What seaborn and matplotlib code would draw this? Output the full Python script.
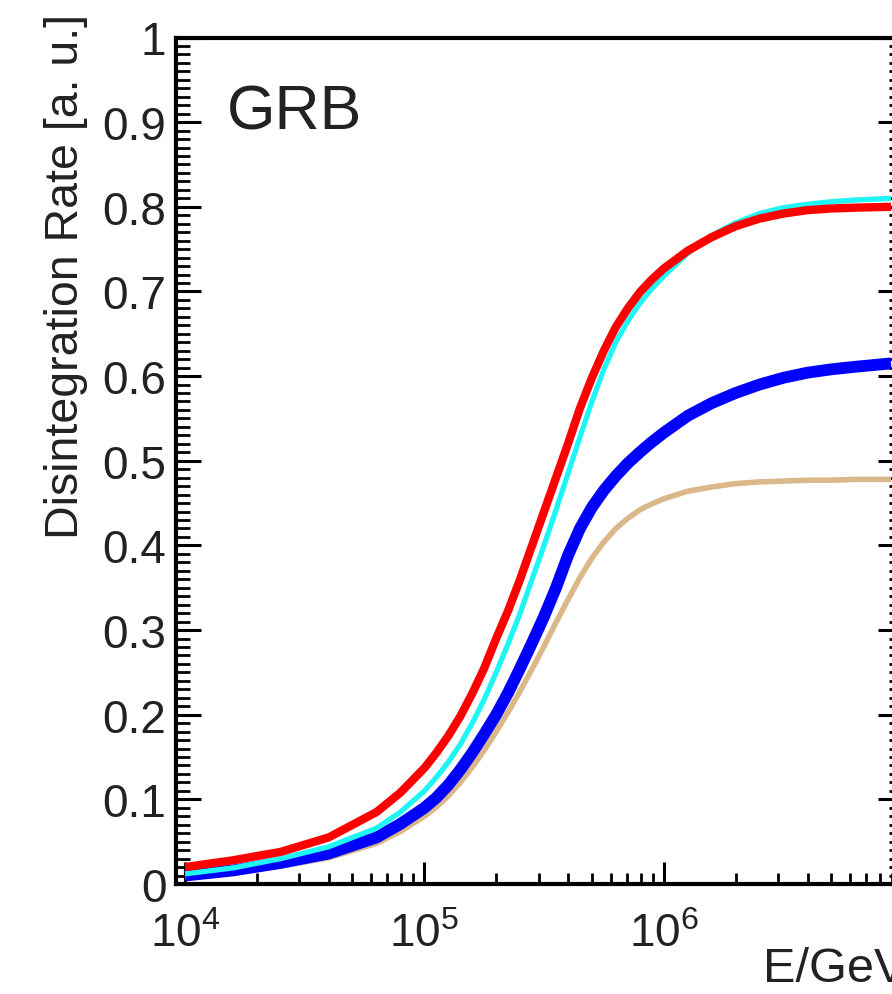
import numpy as np
import pandas as pd
import matplotlib
matplotlib.use("Agg")
import matplotlib.pyplot as plt
import matplotlib.ticker as mticker
import seaborn as sns

# ---------------- data ----------------
log_e = [4.0, 4.2, 4.4, 4.6, 4.8, 4.9, 5.0, 5.05, 5.1, 5.15, 5.2, 5.25, 5.3,
         5.35, 5.4, 5.45, 5.5, 5.55, 5.6, 5.65, 5.7, 5.75, 5.8, 5.85, 5.9,
         5.95, 6.0, 6.1, 6.2, 6.3, 6.4, 6.5, 6.6, 6.7, 6.8, 6.95]
red = [0.020, 0.028, 0.038, 0.055, 0.085, 0.108, 0.137, 0.155, 0.175, 0.198,
       0.225, 0.255, 0.290, 0.323, 0.360, 0.400, 0.440, 0.480, 0.520, 0.562,
       0.598, 0.630, 0.658, 0.680, 0.699, 0.714, 0.727, 0.748, 0.764, 0.777,
       0.786, 0.792, 0.796, 0.798, 0.799, 0.800]
cyan = [0.012, 0.019, 0.030, 0.044, 0.066, 0.085, 0.110, 0.126, 0.144, 0.165,
        0.190, 0.218, 0.250, 0.284, 0.320, 0.360, 0.400, 0.442, 0.485, 0.528,
        0.570, 0.608, 0.640, 0.665, 0.686, 0.703, 0.718, 0.745, 0.766, 0.781,
        0.792, 0.799, 0.803, 0.806, 0.808, 0.810]
blue = [0.010, 0.016, 0.025, 0.036, 0.055, 0.071, 0.090, 0.102, 0.117, 0.135,
        0.155, 0.177, 0.200, 0.226, 0.255, 0.285, 0.316, 0.350, 0.388, 0.420,
        0.445, 0.465, 0.482, 0.497, 0.510, 0.522, 0.533, 0.553, 0.568, 0.580,
        0.590, 0.598, 0.604, 0.608, 0.611, 0.615]
tan = [0.008, 0.013, 0.021, 0.031, 0.048, 0.062, 0.080, 0.091, 0.104, 0.120,
       0.138, 0.158, 0.180, 0.203, 0.228, 0.254, 0.281, 0.309, 0.336, 0.362,
       0.385, 0.404, 0.420, 0.432, 0.442, 0.449, 0.455, 0.464, 0.469, 0.473,
       0.475, 0.476, 0.477, 0.477, 0.478, 0.478]

y_ticks = [0.0, 0.1, 0.2, 0.3, 0.4, 0.5, 0.6, 0.7, 0.8, 0.9, 1.0]
y_tick_labels = ["0", "0.1", "0.2", "0.3", "0.4", "0.5", "0.6", "0.7", "0.8", "0.9", "1"]
x_ticks = [1e4, 1e5, 1e6]
x_tick_labels = [r"$10^{4}$", r"$10^{5}$", r"$10^{6}$"]

# ---------------- styling ----------------
sns.set_theme(style="ticks")
plt.rcParams["font.family"] = ["Liberation Sans", "DejaVu Sans"]
plt.rcParams["mathtext.fontset"] = "custom"
plt.rcParams["mathtext.rm"] = "Liberation Sans"
plt.rcParams["mathtext.it"] = "Liberation Sans:italic"
plt.rcParams["mathtext.bf"] = "Liberation Sans:bold"

E = [10 ** v for v in log_e]
df = pd.DataFrame({"E": E * 4,
                   "rate": tan + blue + cyan + red,
                   "series": ["tan"] * len(E) + ["blue"] * len(E) + ["cyan"] * len(E) + ["red"] * len(E)})

fig = plt.figure(figsize=(8.92, 9.95), dpi=100)
W, H = 892.0, 995.0
ax_left, ax_right = 176.0, 903.0
ax_top, ax_bottom = 38.5, 885.0
ax = fig.add_axes([ax_left / W, 1 - ax_bottom / H, (ax_right - ax_left) / W, (ax_bottom - ax_top) / H])

styles = {"tan": ("#dbb88a", 4.0), "blue": ("#0000ff", 8.5), "cyan": ("#1ff5f5", 3.8), "red": ("#ff0000", 6.0)}
for name in ["tan", "blue", "cyan", "red"]:
    col, lw = styles[name]
    sns.lineplot(data=df[df["series"] == name], x="E", y="rate", ax=ax, color=col,
                 linewidth=lw, legend=False, solid_capstyle="butt", solid_joinstyle="round")

ax.set_xscale("log")
ax.set_xlim(10 ** 3.962, 1e7)
ax.set_ylim(0, 1)
ax.set_xlabel("")
ax.set_ylabel("")

for sp in ax.spines.values():
    sp.set_visible(True)
    sp.set_linewidth(3.0)
    sp.set_color("black")

ax.set_yticks(y_ticks)
ax.set_yticklabels(y_tick_labels)
ax.yaxis.set_minor_locator(mticker.MultipleLocator(0.01))
ax.set_xticks(x_ticks)
ax.set_xticklabels(x_tick_labels)
ax.xaxis.set_minor_locator(mticker.LogLocator(base=10, subs=np.arange(2, 10), numticks=20))
ax.xaxis.set_minor_formatter(mticker.NullFormatter())

ax.tick_params(axis="y", which="major", direction="in", length=18, width=2.2,
               left=True, right=True, labelsize=33, pad=7, colors="black", labelcolor="#222222")
ax.tick_params(axis="y", which="minor", direction="in", length=10, width=2.0, left=True, right=True, colors="black")
ax.tick_params(axis="x", which="major", direction="in", length=16, width=2.2,
               bottom=True, top=False, labelsize=33, pad=20, colors="black", labelcolor="#222222")
ax.tick_params(axis="x", which="minor", direction="in", length=8, width=2.0, bottom=True, top=False, colors="black")

fig.text(227 / W, 1 - 129 / H, "GRB", fontsize=45, ha="left", va="baseline", color="#222222")
fig.text(66 / W, 1 - 14 / H, "Disintegration Rate [a. u.]", fontsize=33.5, rotation=90,
         ha="center", va="top", color="#222222")
fig.text(763 / W, 1 - 982 / H, "E/GeV", fontsize=35, ha="left", va="baseline", color="#222222")

fig.savefig("out.png", dpi=100)
